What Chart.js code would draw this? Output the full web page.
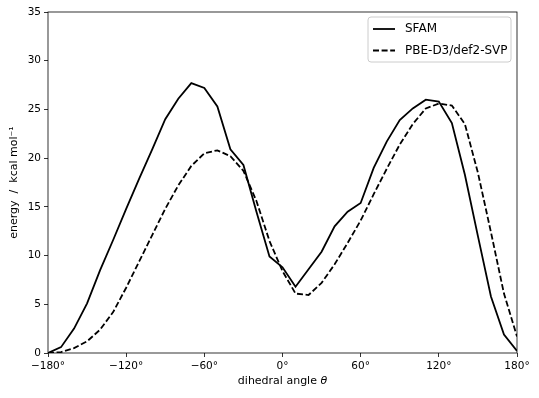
<!DOCTYPE html>
<html><head><meta charset="utf-8">
<script src="https://cdn.jsdelivr.net/npm/chart.js@4"></script>
<style>html,body{margin:0;padding:0;background:#fff}#wrap{width:539px;height:398px}</style>
</head><body><div id="wrap"><canvas id="c" width="539" height="398"></canvas></div>
<script>
const angles = [-180,-170,-160,-150,-140,-130,-120,-110,-100,-90,-80,-70,-60,-50,-40,-30,-20,-10,0,10,20,30,40,50,60,70,80,90,100,110,120,130,140,150,160,170,180];
const sfam = [0,0.6,2.5,5.1,8.5,11.6,14.8,17.9,20.9,24.0,26.1,27.7,27.2,25.3,20.9,19.3,14.5,9.9,8.8,6.8,8.6,10.4,13.0,14.5,15.4,19.0,21.7,23.9,25.1,26.0,25.8,23.6,18.3,12.0,5.8,1.9,0.2];
const pbe = [0,0.1,0.5,1.2,2.4,4.2,6.7,9.4,12.1,14.8,17.2,19.2,20.5,20.8,20.2,18.7,15.6,11.5,8.4,6.1,5.95,7.2,9.1,11.3,13.6,16.3,18.9,21.4,23.5,25.1,25.6,25.4,23.5,18.5,12.4,6.1,1.7];
const seriesNames = ['SFAM','PBE-D3/def2-SVP'];
const xTicks = [-180,-120,-60,0,60,120,180];
const yTicks = [0,5,10,15,20,25,30,35];

const FONT = 'DejaVu Sans';
const FS = 10.5;
const TFS = 11;
const LFS = 12;
const pts = arr => angles.map((a,i)=>({x:a,y:arr[i]}));

const frame = {
  id:'frame',
  afterDraw(chart){
    const {ctx, chartArea:a} = chart;
    ctx.save();
    ctx.strokeStyle='#000'; ctx.lineWidth=0.8;
    ctx.strokeRect(a.left, a.top, a.right-a.left, a.bottom-a.top);
    // x-axis title with italic theta
    ctx.fillStyle='#000';
    ctx.textBaseline='middle';
    const t1='dihedral angle ', t2='θ';
    ctx.font=TFS+'px '+FONT;
    const w1=ctx.measureText(t1).width;
    ctx.font='italic '+TFS+'px '+FONT;
    const w2=ctx.measureText(t2).width;
    const cx=(a.left+a.right)/2, y=381;
    let x0=cx-(w1+w2)/2;
    ctx.font=TFS+'px '+FONT; ctx.textAlign='left';
    ctx.fillText(t1,x0,y);
    ctx.font='italic '+TFS+'px '+FONT;
    ctx.fillText(t2,x0+w1,y);
    // legend
    const lx=368, ly=17, lw=143, lh=45;
    ctx.beginPath();
    const r=3;
    ctx.moveTo(lx+r,ly);ctx.lineTo(lx+lw-r,ly);ctx.arcTo(lx+lw,ly,lx+lw,ly+r,r);
    ctx.lineTo(lx+lw,ly+lh-r);ctx.arcTo(lx+lw,ly+lh,lx+lw-r,ly+lh,r);
    ctx.lineTo(lx+r,ly+lh);ctx.arcTo(lx,ly+lh,lx,ly+lh-r,r);
    ctx.lineTo(lx,ly+r);ctx.arcTo(lx,ly,lx+r,ly,r);ctx.closePath();
    ctx.fillStyle='rgba(255,255,255,0.8)'; ctx.fill();
    ctx.strokeStyle='#cccccc'; ctx.lineWidth=1; ctx.stroke();
    chart.data.datasets.forEach((ds,i)=>{
      const yy = 29 + i*21.5;
      ctx.beginPath();
      ctx.setLineDash(ds.borderDash||[]);
      ctx.strokeStyle='#000'; ctx.lineWidth=1.8;
      ctx.moveTo(373,yy); ctx.lineTo(395,yy); ctx.stroke();
      ctx.setLineDash([]);
      ctx.fillStyle='#000'; ctx.font=LFS+'px '+FONT; ctx.textAlign='left'; ctx.textBaseline='middle';
      ctx.fillText(ds.label, 405, yy);
    });
    ctx.restore();
  }
};

new Chart(document.getElementById('c'), {
  type:'line',
  data:{datasets:[
    {label:seriesNames[0], data:pts(sfam), borderColor:'#000', borderWidth:1.8, pointRadius:0, tension:0, fill:false},
    {label:seriesNames[1], data:pts(pbe), borderColor:'#000', borderWidth:1.8, borderDash:[6,2.6], pointRadius:0, tension:0, fill:false}
  ]},
  options:{
    responsive:false, animation:false, maintainAspectRatio:false,
    layout:{padding:{left:0,right:22,top:12,bottom:0}},
    plugins:{legend:{display:false}, tooltip:{enabled:false}},
    scales:{
      x:{type:'linear', min:-180, max:180,
        afterBuildTicks(s){ s.ticks = xTicks.map(v=>({value:v})); },
        afterFit(s){ s.height=45; },
        border:{display:false},
        grid:{drawOnChartArea:false, drawTicks:true, tickLength:4, color:'#000', tickColor:'#000', tickWidth:0.8},
        ticks:{color:'#000', font:{family:FONT,size:FS}, padding:3, maxRotation:0,
          callback:v=> (v<0?'−'+(-v):String(v))+'°'}
      },
      y:{type:'linear', min:0, max:35,
        afterBuildTicks(s){ s.ticks = yTicks.map(v=>({value:v})); },
        afterFit(s){ s.width=48; },
        border:{display:false},
        grid:{drawOnChartArea:false, drawTicks:true, tickLength:4, color:'#000', tickColor:'#000', tickWidth:0.8},
        ticks:{color:'#000', font:{family:FONT,size:FS}, padding:3},
        title:{display:true, text:'energy  /  kcal mol⁻¹', color:'#000', font:{family:FONT,size:TFS}, padding:{top:8,bottom:0}}
      }
    }
  },
  plugins:[frame]
});
</script></body></html>
